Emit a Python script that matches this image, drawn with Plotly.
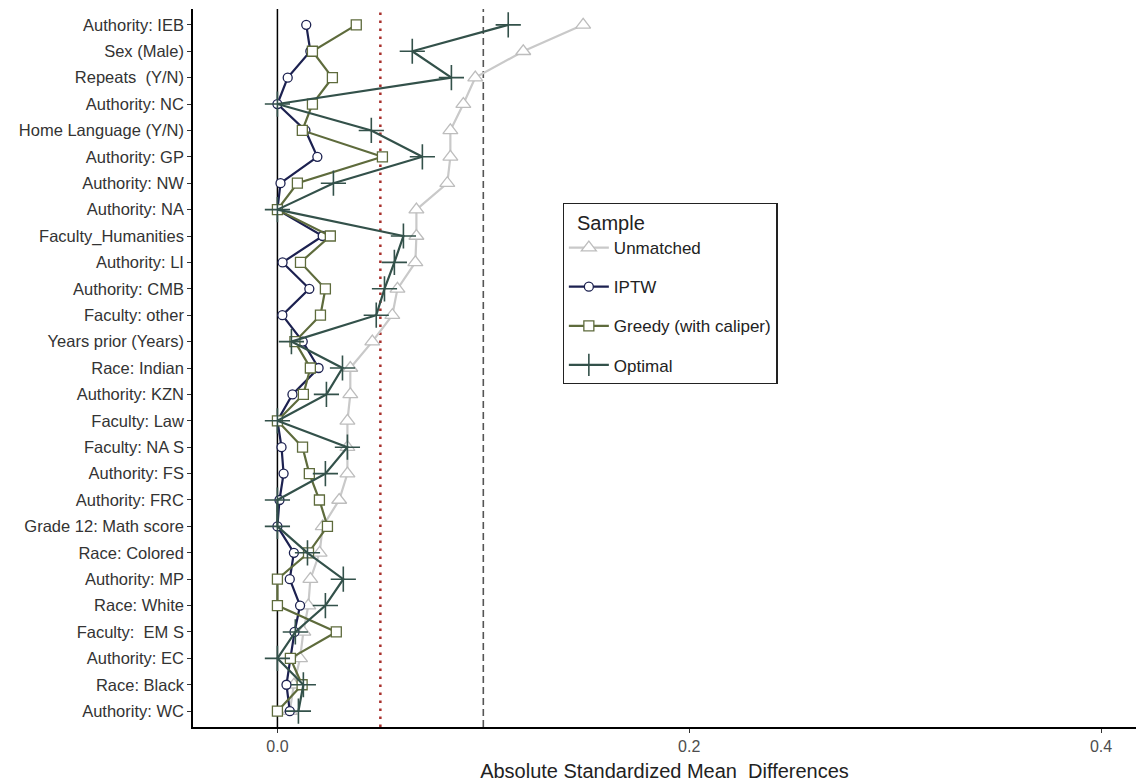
import plotly.graph_objects as go

# Covariates, top to bottom
covariates = [
    "Authority: IEB", "Sex (Male)", "Repeats  (Y/N)", "Authority: NC",
    "Home Language (Y/N)", "Authority: GP", "Authority: NW", "Authority: NA",
    "Faculty_Humanities", "Authority: LI", "Authority: CMB", "Faculty: other",
    "Years prior (Years)", "Race: Indian", "Authority: KZN", "Faculty: Law",
    "Faculty: NA S", "Authority: FS", "Authority: FRC", "Grade 12: Math score",
    "Race: Colored", "Authority: MP", "Race: White", "Faculty:  EM S",
    "Authority: EC", "Race: Black", "Authority: WC",
]

# Absolute standardized mean differences per sample
unmatched = [0.1485, 0.1194, 0.0961, 0.0903, 0.0840, 0.0840, 0.0825, 0.0675,
             0.0675, 0.0670, 0.0583, 0.0558, 0.0461, 0.0354, 0.0354, 0.0340,
             0.0340, 0.0340, 0.0300, 0.0220, 0.0205, 0.0160, 0.0150, 0.0126,
             0.0110, 0.0080, 0.0060]
iptw = [0.0140, 0.0160, 0.0050, 0.0000, 0.0136, 0.0194, 0.0015, 0.0000,
        0.0220, 0.0025, 0.0155, 0.0024, 0.0123, 0.0200, 0.0073, 0.0000,
        0.0020, 0.0030, 0.0010, 0.0000, 0.0080, 0.0060, 0.0110, 0.0083,
        0.0063, 0.0044, 0.0060]
greedy = [0.0383, 0.0170, 0.0267, 0.0170, 0.0121, 0.0510, 0.0097, 0.0000,
          0.0257, 0.0112, 0.0233, 0.0209, 0.0085, 0.0160, 0.0126, 0.0000,
          0.0122, 0.0155, 0.0204, 0.0243, 0.0151, 0.0000, 0.0000, 0.0286,
          0.0063, 0.0120, 0.0000]
optimal = [0.1121, 0.0655, 0.0845, 0.0000, 0.0456, 0.0704, 0.0272, 0.0000,
           0.0612, 0.0568, 0.0520, 0.0480, 0.0068, 0.0316, 0.0238, 0.0000,
           0.0340, 0.0233, 0.0000, 0.0000, 0.0146, 0.0320, 0.0233, 0.0087,
           0.0000, 0.0126, 0.0102]

x_ticks = [0.0, 0.2, 0.4]
x_tick_text = ["0.0", "0.2", "0.4"]
thresholds = [0.05, 0.1]

FONT = "Liberation Sans, Arial, sans-serif"

fig = go.Figure()

# Reference lines: zero, 0.05 (dotted red) and 0.1 (dashed)
fig.add_vline(x=0, line=dict(color="black", width=1.5), layer="below")
fig.add_vline(x=thresholds[0], line=dict(color="#a8302c", width=2.5, dash="2.5px,5.5px"), layer="below")
fig.add_vline(x=thresholds[1], line=dict(color="#555555", width=1.6, dash="7px,4px"), layer="below")

series = [
    ("Unmatched", unmatched, "#c9c9c9", dict(symbol="triangle-up", size=13,
                                               color="white", line=dict(color="#bdbdbd", width=1.3))),
    ("IPTW", iptw, "#1c2150", dict(symbol="circle", size=9,
                                   color="white", line=dict(color="#1c2150", width=1.3))),
    ("Greedy (with caliper)", greedy, "#5e6b3c", dict(symbol="square", size=10,
                                                        color="white", line=dict(color="#5e6b3c", width=1.3))),
    ("Optimal", optimal, "#33514a", dict(symbol="cross-thin", size=18,
                                         color="#33514a", line=dict(color="#33514a", width=1.6))),
]

for name, vals, col, marker in series:
    fig.add_trace(go.Scatter(
        x=vals, y=covariates, name=name, mode="lines+markers",
        line=dict(color=col, width=2.2), marker=marker,
        legendgroup=name,
    ))

fig.update_layout(
    width=1136, height=783,
    margin=dict(l=193, r=0, t=9, b=56),
    paper_bgcolor="white", plot_bgcolor="white",
    font=dict(family=FONT, size=14, color="#333333"),
    xaxis=dict(
        range=[-0.041, 0.417], tickvals=x_ticks, ticktext=x_tick_text,
        showgrid=False, zeroline=False, showline=True, linecolor="black",
        linewidth=1.5, ticks="outside", ticklen=4, tickcolor="#333333",
        tickfont=dict(size=16, color="#4d4d4d"),
        title=dict(text="Absolute Standardized Mean  Differences",
                   font=dict(size=20, color="#222222"), standoff=10),
    ),
    yaxis=dict(
        type="category", categoryorder="array", categoryarray=covariates,
        range=[26.6, -0.6], showgrid=False, zeroline=False, showline=True,
        linecolor="black", linewidth=1.5, ticks="outside", ticklen=4,
        tickcolor="#333333", tickfont=dict(size=16.5, color="#333333"),
    ),
    legend=dict(
        title=dict(text="  Sample", font=dict(size=20, color="#222222")),
        x=0.392, y=0.73, xanchor="left", yanchor="top",
        bordercolor="#222222", borderwidth=1.2, bgcolor="white",
        font=dict(size=17, color="#222222"), tracegroupgap=14,
        itemwidth=40,
    ),
    showlegend=True,
)

fig.write_html("out.html")
